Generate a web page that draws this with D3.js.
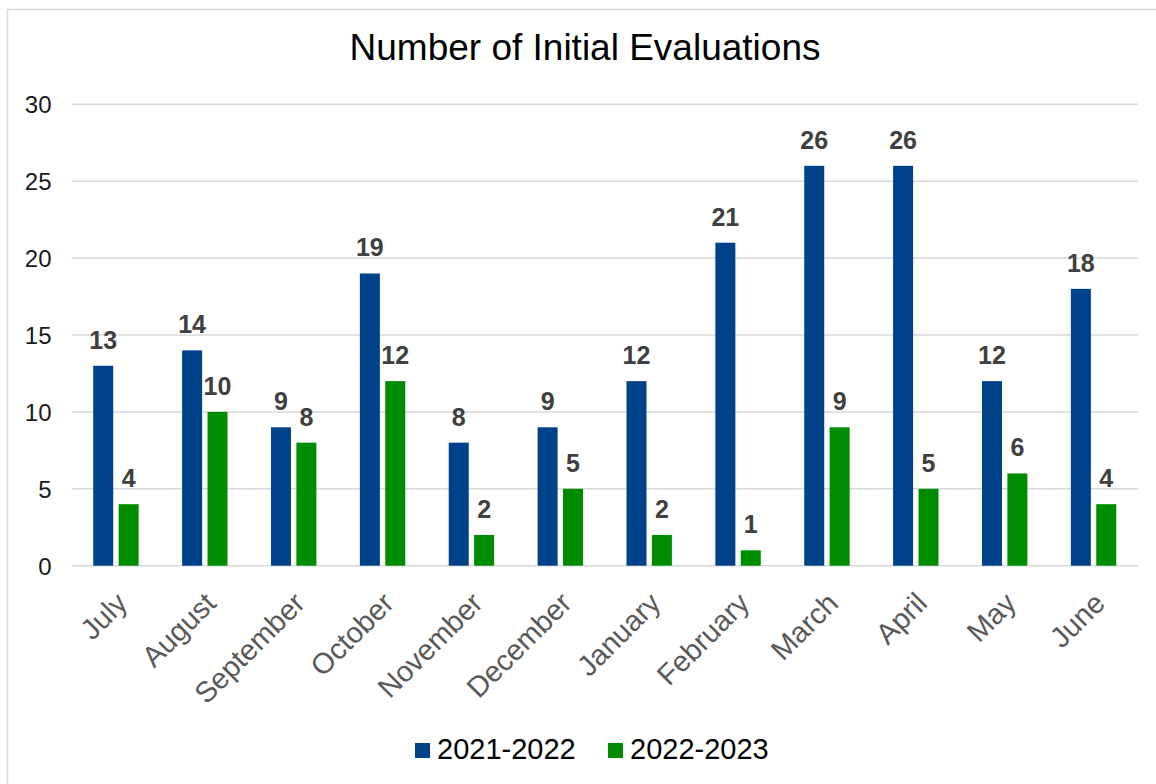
<!DOCTYPE html>
<html>
<head>
<meta charset="utf-8">
<script src="https://cdn.jsdelivr.net/npm/d3@7"></script>
<style>
  html, body { margin: 0; padding: 0; background: #fff; }
  svg { display: block; font-family: "Liberation Sans", Arial, sans-serif; }
</style>
</head>
<body>
<svg id="chart" width="1156" height="784"></svg>
<script>
// Monthly initial evaluations for two school years
const months = ["July", "August", "September", "October", "November", "December",
                "January", "February", "March", "April", "May", "June"];
const seriesNames = ["2021-2022", "2022-2023"];
const values2122 = [13, 14, 9, 19, 8, 9, 12, 21, 26, 26, 12, 18];
const values2223 = [4, 10, 8, 12, 2, 5, 2, 1, 9, 5, 6, 4];
const yTicks = [0, 5, 10, 15, 20, 25, 30];
const colors = ["#00428a", "#008c00"];

const svg = d3.select("#chart");
const W = 1156, H = 784;

// outer chart frame
svg.append("rect")
  .attr("x", 7.5).attr("y", 9.5)
  .attr("width", W + 10).attr("height", H + 10)
  .attr("fill", "#fff").attr("stroke", "#d9d9d9").attr("stroke-width", 1.5);

const plot = { left: 71.5, right: 1138, top: 104.3, bottom: 565.7 };

const x0 = d3.scaleBand().domain(months).range([plot.left, plot.right]).paddingInner(0).paddingOuter(0);
const y = d3.scaleLinear().domain([0, 30]).range([plot.bottom, plot.top]);

const barW = 20, gap = 5.4;

// gridlines
svg.append("g").selectAll("line").data(yTicks).join("line")
  .attr("x1", plot.left).attr("x2", plot.right)
  .attr("y1", d => y(d)).attr("y2", d => y(d))
  .attr("stroke", "#d9d9d9").attr("stroke-width", 1.5);

// y axis labels
const yAxis = d3.axisLeft(y).tickValues(yTicks).tickSize(0).tickPadding(0);
const yg = svg.append("g").attr("transform", `translate(${plot.left - 20},0)`).call(yAxis);
yg.select(".domain").remove();
yg.selectAll("text")
  .attr("font-size", 24).attr("fill", "#1a1a1a")
  .attr("font-family", "Liberation Sans, Arial, sans-serif")
  .attr("dy", "0.36em");

// title
svg.append("text")
  .attr("x", 585).attr("y", 60)
  .attr("text-anchor", "middle")
  .attr("font-size", 37).attr("fill", "#000")
  .text("Number of Initial Evaluations");

const series = [values2122, values2223];

series.forEach((vals, si) => {
  const offset = si === 0 ? -(barW + gap / 2) : gap / 2;
  const g = svg.append("g");
  g.selectAll("rect").data(vals).join("rect")
    .attr("x", (d, i) => x0(months[i]) + x0.bandwidth() / 2 + offset)
    .attr("y", d => y(d))
    .attr("width", barW)
    .attr("height", d => y(0) - y(d))
    .attr("fill", colors[si]);
  g.selectAll("text").data(vals).join("text")
    .attr("x", (d, i) => x0(months[i]) + x0.bandwidth() / 2 + offset + barW / 2)
    .attr("y", d => y(d) - 17)
    .attr("text-anchor", "middle")
    .attr("font-size", 25).attr("font-weight", "bold")
    .attr("fill", "#404040")
    .text(d => d);
});

// x axis category labels, rotated
svg.append("g").selectAll("text").data(months).join("text")
  .attr("transform", d => `translate(${x0(d) + x0.bandwidth() / 2 + 13},605) rotate(-45)`)
  .attr("text-anchor", "end")
  .attr("font-size", 29).attr("fill", "#595959")
  .text(d => d);

// legend
const legendItems = [{ name: seriesNames[0], x: 415 }, { name: seriesNames[1], x: 608 }];
const lg = svg.append("g");
legendItems.forEach((it, i) => {
  lg.append("rect").attr("x", it.x).attr("y", 743).attr("width", 15).attr("height", 15).attr("fill", colors[i]);
  lg.append("text").attr("x", it.x + 22).attr("y", 759)
    .attr("font-size", 29).attr("fill", "#000").text(it.name);
});
</script>
</body>
</html>
